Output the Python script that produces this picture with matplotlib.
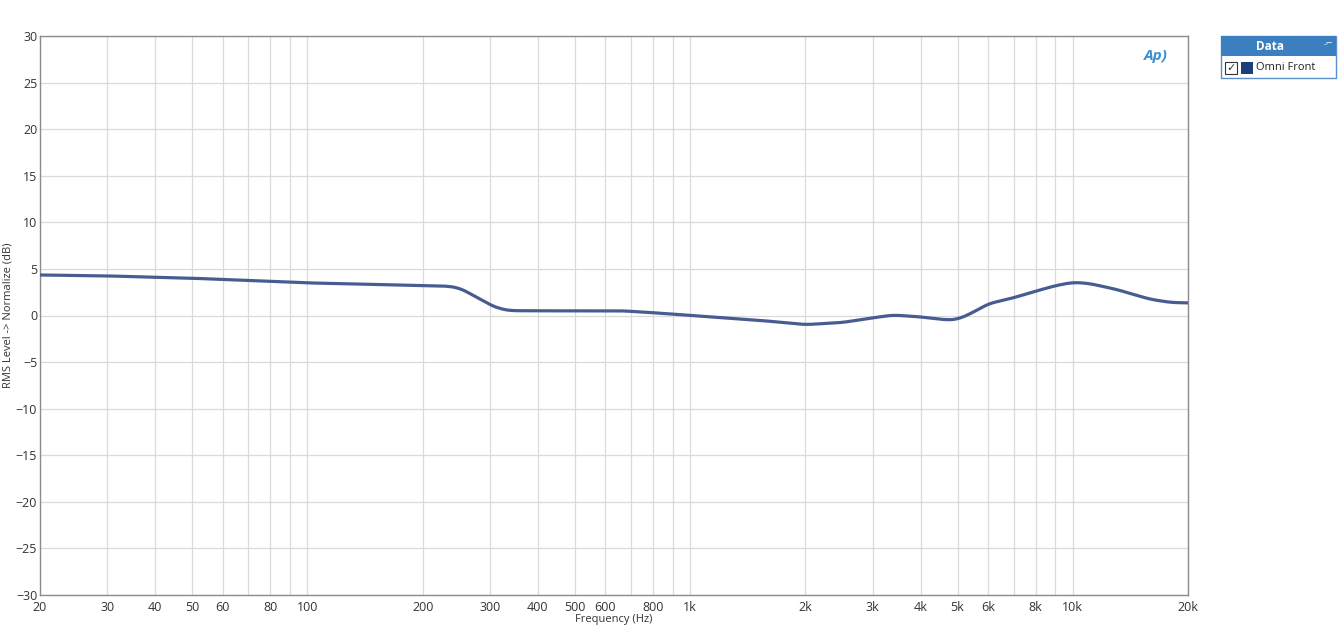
import matplotlib
matplotlib.use("Agg")
import matplotlib.pyplot as plt
from matplotlib.patches import Rectangle
import numpy as np

freq_hz = [20, 30, 50, 100, 175, 200, 230, 250, 270, 290, 300, 320, 338, 400, 600, 667,
           800, 1050, 1500, 2000, 2500, 3000, 3390, 4000, 4690, 5000, 5500, 6000, 7000,
           7900, 9000, 10000, 11000, 13000, 15900, 18000, 20000]
level_db = [4.35, 4.25, 4.0, 3.5, 3.27, 3.22, 3.17, 2.95, 2.2, 1.5, 1.13, 0.7, 0.52, 0.5,
            0.5, 0.5, 0.3, -0.05, -0.5, -0.98, -0.75, -0.25, 0.05, -0.15, -0.48, -0.42,
            0.35, 1.25, 1.9, 2.55, 3.2, 3.56, 3.45, 2.8, 1.75, 1.4, 1.35]

xtick_vals = [20, 30, 40, 50, 60, 80, 100, 200, 300, 400, 500, 600, 800, 1000, 2000,
              3000, 4000, 5000, 6000, 8000, 10000, 20000]
xtick_labels = ["20", "30", "40", "50", "60", "80", "100", "200", "300", "400", "500",
                "600", "800", "1k", "2k", "3k", "4k", "5k", "6k", "8k", "10k", "20k"]
grid_vals = [20, 30, 40, 50, 60, 70, 80, 90, 100, 200, 300, 400, 500, 600, 700, 800, 900,
             1000, 2000, 3000, 4000, 5000, 6000, 7000, 8000, 9000, 10000, 20000]
ytick_vals = list(range(-30, 31, 5))

plt.rcParams['font.family'] = ['Open Sans', 'DejaVu Sans']

fig = plt.figure(figsize=(13.41, 6.29), dpi=100)
ax = fig.add_axes([40/1341, 1-595/629, (1188-40)/1341, (595-36)/629])

# smooth curve via interpolation in log-frequency (display smoothing only)
lf = np.log10(freq_hz)
xs = np.linspace(lf[0], lf[-1], 1500)
ys = np.interp(xs, lf, level_db)
k = 21
kern = np.ones(k) / k
ys_s = np.convolve(np.pad(ys, k//2, mode='edge'), kern, mode='valid')
ax.plot(10**xs, ys_s, color='#475d91', lw=2.3, solid_capstyle='round', zorder=3)

ax.set_xscale('log')
ax.set_xlim(20, 20000)
ax.set_ylim(-30, 30)
ax.set_xticks(xtick_vals)
ax.set_xticklabels(xtick_labels)
ax.xaxis.set_minor_locator(matplotlib.ticker.NullLocator())
ax.set_yticks(ytick_vals)
for g in grid_vals:
    ax.axvline(g, color='#dadada', lw=0.9, zorder=1)
for v in ytick_vals:
    ax.axhline(v, color='#dadada', lw=0.9, zorder=1)
ax.tick_params(axis='both', length=0, labelsize=9, colors='#333333', pad=2)
ax.tick_params(axis='x', pad=4)
for s in ax.spines.values():
    s.set_color('#8c8c8c')
    s.set_linewidth(1.0)
ax.set_xlabel("Frequency (Hz)", fontsize=8, color='#333333', labelpad=0)
ax.set_ylabel("RMS Level -> Normalize (dB)", fontsize=8, color='#333333', labelpad=2)

# AP logo
ax.text(0.982, 0.965, "Ap)", transform=ax.transAxes, ha='right', va='center',
        fontsize=11, fontstyle='italic', fontweight='bold', color='#3a8fd0')

# Legend panel
W, H = 1341, 629
def fx(x): return x / W
def fy(y): return 1 - y / H
fig.patches.append(Rectangle((fx(1221), fy(78)), fx(115), 42/H, transform=fig.transFigure,
                             facecolor='white', edgecolor='#5b8fc7', lw=1.0))
fig.patches.append(Rectangle((fx(1221), fy(56)), fx(115), 20/H, transform=fig.transFigure,
                             facecolor='#3c7fc0', edgecolor='none'))
fig.text(fx(1270), fy(46), "Data", ha='center', va='center', fontsize=8.5,
         fontweight='bold', color='white')
fig.text(fx(1329), fy(45), "-\u2310", ha='center', va='center', fontsize=6, color='white')
fig.patches.append(Rectangle((fx(1225), fy(74)), 12/W, 12/H, transform=fig.transFigure,
                             facecolor='white', edgecolor='#333333', lw=0.8))
fig.text(fx(1231), fy(68), "\u2713", ha='center', va='center', fontsize=8, color='#333333',
         family='DejaVu Sans')
fig.patches.append(Rectangle((fx(1241), fy(74)), 12/W, 12/H, transform=fig.transFigure,
                             facecolor='#1f3f7a', edgecolor='none'))
fig.text(fx(1256), fy(67.5), "Omni Front", ha='left', va='center', fontsize=8,
         color='#222222')

fig.savefig("out.png", dpi=100, facecolor='white')
